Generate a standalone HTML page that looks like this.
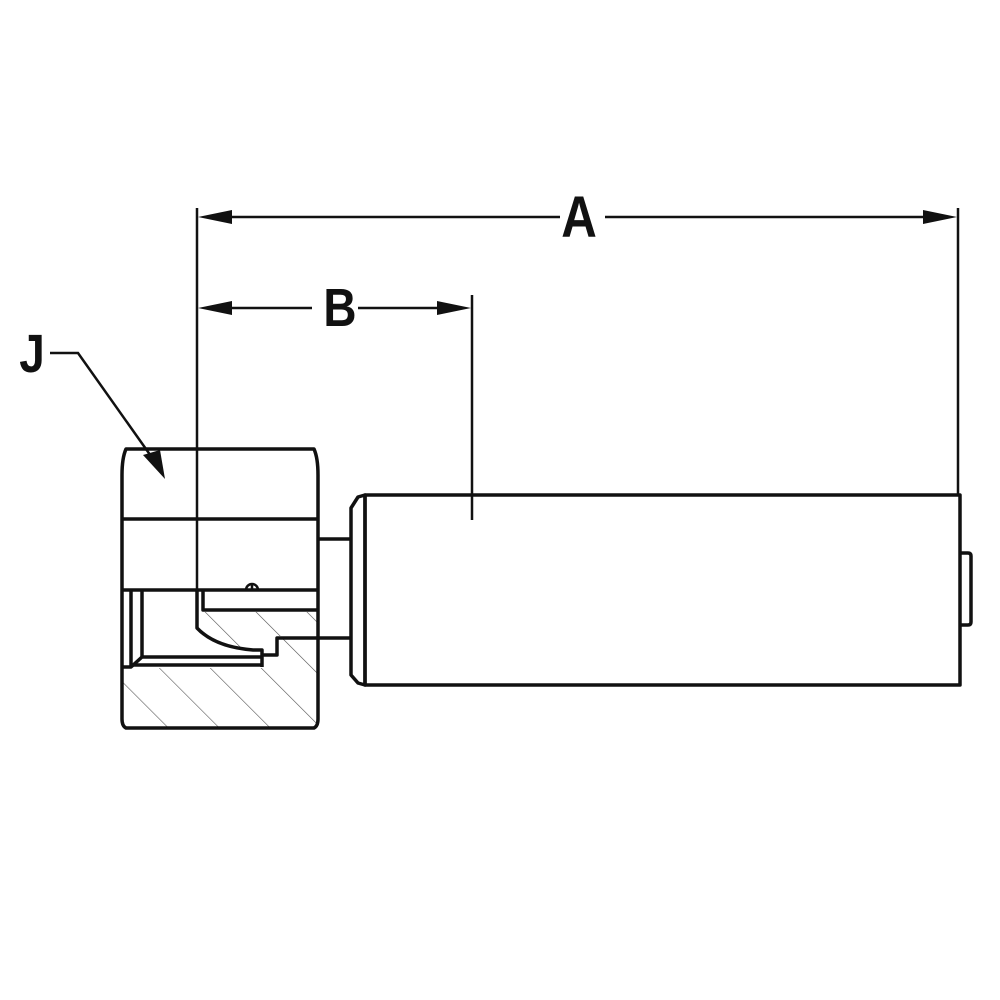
<!DOCTYPE html>
<html><head><meta charset="utf-8"><style>
html,body{margin:0;padding:0;background:#fff;}
svg{display:block;}
text{font-family:"Liberation Sans",sans-serif;fill:#111;}
</style></head><body>
<svg width="1000" height="1000" viewBox="0 0 1000 1000" xmlns="http://www.w3.org/2000/svg">
<defs>
<pattern id="h" patternUnits="userSpaceOnUse" width="36" height="36" patternTransform="rotate(-45)">
<line x1="0" y1="0" x2="0" y2="36" stroke="#555" stroke-width="1.2"/>
</pattern>
</defs>
<g fill="none" stroke="#111" stroke-width="3.5" stroke-linejoin="round">
<path d="M122,668 L262,668 L262,657 L275,657 L275,638 L318,638 L318,728 L122,728 Z M203,612 L318,612 L318,636 L275,636 L275,650 L253,650 Q215,646 199,628 L199,612 Z" fill="url(#h)" stroke="none"/>
<path d="M126,449 L314,449 Q318,458 318,475 L318,719 Q318,726 314,728 L126,728 Q122,726 122,719 L122,475 Q122,458 126,449 Z"/>
<line x1="122" y1="519" x2="318" y2="519"/>
<line x1="122" y1="590" x2="318" y2="590"/>
<line x1="131" y1="590" x2="131" y2="667"/>
<line x1="142" y1="590" x2="142" y2="657"/>
<path d="M122,667 L131,667 L142,657 L262,657 L262,667"/>
<line x1="131" y1="665" x2="262" y2="665"/>
<path d="M197,590 L197,628 Q215,647 253,650 L262,650 L262,655 L277,655 L277,638 L318,638"/>
<path d="M203,590 L203,610 L318,610"/>
<path d="M246,590 A6,6 0 0 1 258,590 M252,583 L252,590" stroke-width="2.5"/>
<line x1="318" y1="539" x2="351" y2="539"/>
<line x1="318" y1="638" x2="351" y2="638"/>
<path d="M365,495 L358,497 L351,508 L351,675 L358,683 L365,685 Z"/>
<rect x="365" y="495" width="595" height="190"/>
<path d="M960,553 L968,553 Q971,553 971,556 L971,622 Q971,625 968,625 L960,625"/>
</g>
<g stroke="#111" stroke-width="2.5" fill="none">
<line x1="197" y1="208" x2="197" y2="590"/>
<line x1="958" y1="208" x2="958" y2="495"/>
<line x1="472" y1="295" x2="472" y2="520"/>
<line x1="560" y1="217" x2="220" y2="217"/>
<line x1="605" y1="217" x2="935" y2="217"/>
<line x1="312" y1="308" x2="220" y2="308"/>
<line x1="358" y1="308" x2="450" y2="308"/>
<path d="M50,353 L78,353 L158,466"/>
</g>
<g fill="#111">
<path d="M198,217 L232,210 L232,224 Z"/>
<path d="M957,217 L923,210 L923,224 Z"/>
<path d="M198,308 L232,301 L232,315 Z"/>
<path d="M471,308 L437,301 L437,315 Z"/>
<path d="M143,455 L165,479 L160,450 Z"/>
</g>
<text x="579" y="237" font-size="58" font-weight="bold" text-anchor="middle" transform="translate(579 0) scale(0.85 1) translate(-579 0)">A</text>
<text x="340" y="326" font-size="54" font-weight="bold" text-anchor="middle" transform="translate(340 0) scale(0.85 1) translate(-340 0)">B</text>
<text x="32" y="372" font-size="54" font-weight="bold" text-anchor="middle" transform="translate(32 0) scale(0.85 1) translate(-32 0)">J</text>
</svg>
</body></html>
